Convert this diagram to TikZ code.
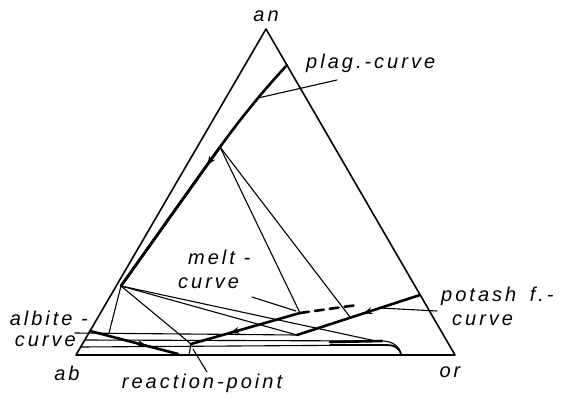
\documentclass[tikz,border=0pt]{standalone}
\usepackage{fontspec}
\newfontfamily\lab[LetterSpace=15]{Liberation Sans}
\usetikzlibrary{decorations.markings,arrows.meta}
\begin{document}
\begin{tikzpicture}[x=1pt,y=-1pt,line join=round,line cap=round,
  edgeline/.style={line width=1.6pt},
  tieline/.style={line width=1.1pt},
  heavy/.style={line width=2.6pt},
  lbl/.style={font=\lab\itshape\fontsize{20}{22}\selectfont, inner sep=0pt},
  arrowat/.style={postaction={decorate,decoration={markings,mark=at position #1 with {\arrow{Stealth[length=9pt,width=7pt]}}}}},
  arrowback/.style={postaction={decorate,decoration={markings,mark=at position #1 with {\arrowreversed{Stealth[length=9pt,width=7pt]}}}}}]
\useasboundingbox (0,0) rectangle (564,399);
% corners
\coordinate (an) at (266,29);
\coordinate (ab) at (76,355);
\coordinate (or) at (455,355);
% plag curve
\coordinate (PT) at (287,65);
\coordinate (P1) at (258,98);
\coordinate (P2) at (220,147);
\coordinate (J) at (121,286);
\coordinate (PL) at (337,80);
% melt curve
\coordinate (R) at (191,344);
\coordinate (M) at (300,313);
\coordinate (MD) at (357,305);
\coordinate (ML1) at (252,297);
\coordinate (ML2) at (296,311);
% potash curve
\coordinate (K) at (297,335);
\coordinate (PF) at (420,295);
\coordinate (Q) at (350,317);
\coordinate (KL1) at (380,308);
\coordinate (KL2) at (437,311);
% others
\coordinate (L) at (376,341);
\coordinate (D) at (109,333);
\coordinate (A1) at (90,331);
\coordinate (A2) at (178,354);
\coordinate (AL) at (75,333);
\coordinate (E2) at (85,340);
\coordinate (E2r) at (382,341);
\coordinate (E2b) at (401,355);
\coordinate (E3) at (81,347);
\coordinate (E3r) at (385,345);
\coordinate (RB) at (189,355);
\coordinate (RL1) at (193,349);
\coordinate (RL2) at (207,372);

% triangle
\draw[edgeline] (an) -- (ab) -- (or) -- cycle;

% plag curve
\draw[heavy] plot[smooth,tension=0.5] coordinates {(PT) (P1) (P2) (J)};
\draw[heavy,arrowat=0.13] (P2) -- (J);
\draw[tieline] (P1) -- (PL);
% tie lines
\draw[tieline] (P2) -- (M);
\draw[tieline] (P2) -- (Q);
% melt curve
\draw[heavy,arrowback=0.36] (R) -- (M);
\draw[heavy,dashed,dash pattern=on 9pt off 6pt] (M) -- (MD);
\draw[tieline] (ML1) -- (ML2);
% potash curve
\draw[heavy,arrowback=0.54] (K) -- (PF);
\draw[tieline] (KL1) -- (KL2);
% lines from J
\draw[tieline] (J) -- (K);
\draw[tieline] (J) -- (L);
\draw[tieline] (J) -- (R);
\draw[tieline] (J) -- (D);
% albite curve
\draw[heavy,arrowat=0.64] (A1) -- (A2);
% horizontal lines
\draw[tieline] (AL) -- (K);
\draw[tieline] (E2) -- (E2r) to[out=0,in=95] (E2b);
\draw[tieline] (E3) -- (E3r);
\draw[heavy] (330,342) -- (E2r);
\draw[line width=1.8pt] (330,345) -- (E3r) to[out=5,in=95] (E2b);
% reaction point
\draw[tieline] (R) -- (RB);
\draw[tieline] (RL1) -- (RL2);

% labels
\node[lbl] (tan) at (266,16) {an};
\node[lbl] (tab) at (67,373) {ab};
\node[lbl] (tor) at (450,372) {or};
\node[lbl,anchor=west] (tplag) at (306,63) {plag.-curve};
\node[lbl,anchor=west] (tmelt) at (188,257) {melt -};
\node[lbl,anchor=west] (tmeltc) at (178,283) {curve};
\node[lbl,anchor=west] (tpot) at (441,296) {potash\hspace{5pt} f.-};
\node[lbl,anchor=west] (tpotc) at (452,320) {curve};
\node[lbl,anchor=east] (talb) at (88,318) {albite -};
\node[lbl,anchor=east] (talbc) at (76,341) {curve};
\node[lbl] (treac) at (202,383) {reaction-point};
\end{tikzpicture}
\end{document}
